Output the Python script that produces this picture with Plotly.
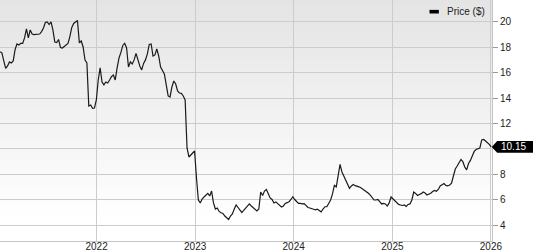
import pandas as pd
import plotly.graph_objects as go

# Weekly closing prices, starting 2021-01-08
start_date = "2021-01-08"
price = [
    17.66, 17.56, 16.93, 16.35, 16.53, 16.85, 16.77, 16.93, 17.83, 18.27,
    18.19, 18.31, 18.31, 18.74, 19.45, 18.74, 19.37, 19.05, 19.01, 19.01,
    19.03, 19.05, 19.24, 19.53, 19.96, 20.00, 19.80, 20.00, 19.37, 18.42,
    18.38, 18.62, 17.99, 17.95, 18.07, 18.19, 18.31, 18.86, 19.57, 19.88,
    20.04, 20.12, 18.35, 18.50, 18.03, 17.00, 16.77, 13.38, 13.46, 13.20,
    13.22, 13.85, 15.43, 16.38, 15.27, 15.04, 15.27, 15.19, 15.43, 15.69,
    15.82, 15.43, 16.38, 17.16, 17.60, 18.15, 18.32, 17.95, 16.45, 16.85,
    16.69, 17.01, 17.52, 17.01, 16.53, 16.22, 16.73, 17.01, 17.48, 18.23,
    18.27, 17.32, 17.40, 17.87, 17.32, 16.45, 16.22, 15.90, 15.04, 14.17,
    14.09, 14.88, 15.35, 15.11, 14.56, 14.40, 14.37, 14.17, 13.85, 10.07,
    9.36, 9.52, 9.68, 9.83, 7.71, 5.97, 5.74, 6.05, 6.21, 6.37,
    6.49, 6.29, 6.68, 5.74, 5.26, 5.34, 5.07, 4.97, 4.91, 4.71,
    4.59, 4.44, 4.71, 4.87, 5.26, 5.58, 5.38, 5.19, 4.99, 5.15,
    5.30, 5.50, 5.66, 5.50, 5.38, 5.26, 5.11, 5.26, 6.60, 6.32,
    6.68, 6.80, 6.45, 6.13, 6.01, 5.74, 5.82, 5.70, 5.54, 5.42,
    5.50, 5.70, 5.76, 5.84, 6.01, 6.23, 6.01, 5.82, 5.70, 5.71,
    5.66, 5.68, 5.50, 5.38, 5.34, 5.26, 5.24, 5.19, 5.24, 5.15,
    5.03, 5.26, 5.44, 5.44, 5.66, 5.97, 6.45, 7.12, 7.00, 7.94,
    8.77, 8.18, 7.86, 7.55, 7.31, 6.89, 7.08, 7.19, 7.10, 7.08,
    7.01, 6.94, 6.84, 6.76, 6.64, 6.50, 6.35, 6.19, 5.97, 5.97,
    6.01, 5.85, 5.66, 5.71, 5.66, 5.50, 5.74, 6.21, 6.05, 5.90,
    5.78, 5.62, 5.58, 5.54, 5.58, 5.46, 5.62, 5.66, 5.97, 6.60,
    6.49, 6.33, 6.41, 6.47, 6.60, 6.52, 6.37, 6.42, 6.50, 6.64,
    6.72, 6.66, 6.80, 7.08, 7.21, 7.27, 7.12, 7.08, 7.16, 7.29,
    7.86, 8.41, 8.65, 8.97, 9.16, 8.99, 8.57, 8.34, 8.85, 9.09,
    9.44, 9.80, 9.95, 9.99, 10.07, 10.70, 10.74, 10.62, 10.50, 10.35,
    10.15,
]
dates = pd.date_range(start_date, periods=len(price), freq="7D")

year_ticks = ["2022-01-01", "2023-01-01", "2024-01-01", "2025-01-01", "2026-01-01"]
year_labels = ["2022", "2023", "2024", "2025", "2026"]
y_ticks = [4, 6, 8, 10, 12, 14, 16, 18, 20]
# the "10" label sits under the last-price tag in the original, so it is not shown
y_labels = ["4", "6", "8", "", "12", "14", "16", "18", "20"]
series_name = "Price ($)"
last_label = "10.15"

Y_MIN, Y_MAX = 2.74, 21.73
FONT = "Liberation Sans, Arial, sans-serif"

fig = go.Figure()
fig.add_trace(go.Scatter(
    x=dates, y=price, mode="lines",
    line=dict(color="#1a1a1a", width=1.2),
    showlegend=False, hoverinfo="skip",
))

shapes = []
# vertical gradient background (light grey at top -> white at bottom)
n = 48
for k in range(n):
    t = k / n
    c = int(round(228 + (255 - 228) * min(1.0, t / 0.9)))
    shapes.append(dict(
        type="rect", xref="paper", yref="paper",
        x0=0, x1=1, y0=1 - (k + 1) / n, y1=1 - k / n + 0.002,
        fillcolor=f"rgb({c},{c},{c})", line=dict(width=0), layer="below",
    ))

# legend swatch
shapes.append(dict(
    type="rect", xref="paper", yref="paper",
    x0=0.873, x1=0.892, y0=0.944, y1=0.959,
    fillcolor="#000000", line=dict(width=0), layer="above",
))

# last price tag
last_val = price[-1]
def py(v):
    return (v - Y_MIN) / (Y_MAX - Y_MIN)
half = 0.46
tip_y = py(last_val)
top_y = py(last_val + half)
bot_y = py(last_val - half)
shapes.append(dict(
    type="path", xref="paper", yref="paper",
    path=(f"M 0.9995,{tip_y} L 1.0105,{top_y} L 1.09,{top_y} "
          f"L 1.09,{bot_y} L 1.0105,{bot_y} Z"),
    fillcolor="#000000", line=dict(width=0), layer="above",
))

annotations = [
    dict(text=series_name, xref="paper", yref="paper", x=0.904, y=0.951,
         xanchor="left", yanchor="middle", showarrow=False,
         font=dict(family=FONT, size=10, color="#222222")),
    dict(text=last_label, xref="paper", yref="paper", x=1.0437, y=tip_y,
         xanchor="center", yanchor="middle", showarrow=False,
         font=dict(family=FONT, size=10, color="#ffffff")),
]

fig.update_layout(
    template="none",
    width=533, height=250,
    margin=dict(l=0, r=41, t=0, b=9, pad=0),
    paper_bgcolor="#ffffff",
    plot_bgcolor="rgba(0,0,0,0)",
    shapes=shapes,
    annotations=annotations,
    showlegend=False,
    font=dict(family=FONT, size=10, color="#222222"),
    xaxis=dict(
        range=["2021-01-08", "2026-01-05"],
        tickvals=year_ticks, ticktext=year_labels,
        showgrid=True, gridcolor="#cccccc", gridwidth=1,
        showline=True, linecolor="#c4c4c4", linewidth=1, mirror=True,
        ticks="", zeroline=False, ticklabelstandoff=-4,
        tickfont=dict(family=FONT, size=10, color="#222222"),
    ),
    yaxis=dict(
        range=[Y_MIN, Y_MAX], side="right",
        tickvals=y_ticks, ticktext=y_labels,
        showgrid=True, gridcolor="#cccccc", gridwidth=1,
        showline=True, linecolor="#c4c4c4", linewidth=1, mirror=True,
        ticks="outside", ticklen=5, tickcolor="#999999", tickwidth=1,
        zeroline=False,
        tickfont=dict(family=FONT, size=10, color="#222222"),
    ),
)

fig.write_html("out.html")
